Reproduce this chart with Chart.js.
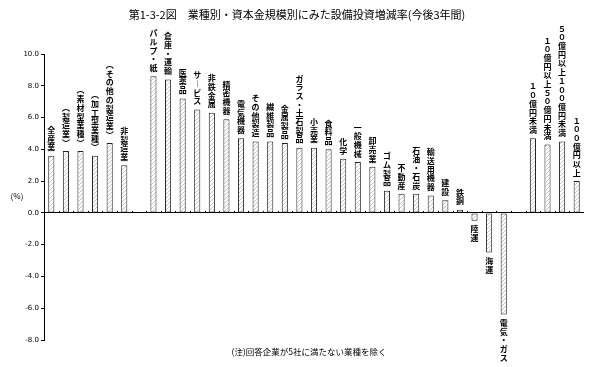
<!DOCTYPE html>
<html>
<head>
<meta charset="utf-8">
<script src="https://cdn.jsdelivr.net/npm/chart.js@4"></script>
<style>
  html, body { margin: 0; padding: 0; background: #fff; }
  canvas { display: block; }
</style>
</head>
<body>
<canvas id="graph" width="589" height="367"></canvas>
<script>
const categories = [
  '全産業', '︵製造業︶', '︵素材型業種︶', '︵加工型業種︶', '︵その他の製造業︶', '非製造業', '',
  'パルプ・紙', '倉庫・運輸', '医薬品', 'サ︱ビス', '非鉄金属', '精密機器', '電気機器', 'その他製造',
  '繊維製品', '金属製品', 'ガラス・土石製品', '小売業', '食料品', '化学', '一般機械', '卸売業',
  'ゴム製品', '不動産', '石油・石炭', '輸送用機器', '建設', '鉄鋼', '陸運', '海運', '電気・ガス', '',
  '１０億円未満', '１０億円以上５０億円未満', '５０億円以上１００億円未満', '１００億円以上'
]

const values = [
  3.6, 3.9, 3.9, 3.6, 4.4, 3.0, null,
  8.6, 8.4, 7.2, 6.5, 6.3, 5.9, 4.7, 4.5,
  4.5, 4.4, 4.1, 4.1, 4.0, 3.4, 3.2, 2.9,
  1.4, 1.2, 1.2, 1.1, 0.8, 0.2, -0.5, -2.5, -6.4, null,
  4.7, 4.3, 4.5, 2.0
]

const yTicks = { min: -8, max: 10, step: 2 }

const titleText = '第1-3-2図　業種別・資本金規模別にみた設備投資増減率(今後3年間)'
const noteText = '(注)回答企業が5社に満たない業種を除く'
const unitText = '(%)'

const JP = '"Noto Sans CJK JP", sans-serif'

// diagonal hatch for the bars
const hatch = (() => {
  const c = document.createElement('canvas')
  c.width = 4
  c.height = 4
  const g = c.getContext('2d')
  g.fillStyle = '#fff'
  g.fillRect(0, 0, 4, 4)
  g.fillStyle = '#c4c4c4'
  for (let i = 0; i < 4; i++) g.fillRect(i, 3 - i, 1, 1)
  return g.createPattern(c, 'repeat')
})()

const extras = {
  id: 'extras',
  afterDatasetsDraw(chart) {
    const { ctx, scales: { x, y } } = chart
    const zero = y.getPixelForValue(0)
    ctx.save()

    // small marks between categories on the zero line
    ctx.fillStyle = '#000'
    for (let i = 0; i < categories.length - 1; i++) {
      const px = Math.round((x.getPixelForValue(i) + x.getPixelForValue(i + 1)) / 2)
      ctx.fillRect(px, zero - 2, 1, 2)
    }

    // vertical labels
    const step = 8.7
    ctx.font = 'bold 8px ' + JP
    ctx.textAlign = 'center'
    ctx.textBaseline = 'middle'
    ctx.fillStyle = '#000'
    chart.getDatasetMeta(0).data.forEach((bar, i) => {
      const v = values[i]
      if (v === null) return
      const chars = Array.from(categories[i])
      const n = chars.length
      chars.forEach((ch, k) => {
        const cy = v >= 0 ? bar.y - 4 - (n - k - 0.5) * step : bar.y + 4 + (k + 0.5) * step
        ctx.fillText(ch, bar.x, cy)
      })
    })

    // title, unit and note
    ctx.font = '11px ' + JP
    ctx.fillText(titleText, 297, 15)
    ctx.font = '8px ' + JP
    ctx.fillText(unitText, 17, 196)
    ctx.font = '8.5px ' + JP
    ctx.fillText(noteText, 309, 352)
    ctx.restore()
  }
}

new Chart(document.getElementById('graph'), {
  type: 'bar',
  plugins: [extras],
  data: {
    labels: categories,
    datasets: [
      {
        data: values,
        backgroundColor: hatch,
        borderColor: '#222',
        borderWidth: 1,
        borderSkipped: false,
        barPercentage: 0.42,
        categoryPercentage: 1
      }
    ]
  },
  options: {
    responsive: false,
    animation: false,
    layout: { padding: { top: 54, bottom: 27, right: 5, left: 0 } },
    plugins: { legend: { display: false }, tooltip: { enabled: false }, title: { display: false } },
    scales: {
      x: { display: false },
      y: {
        min: yTicks.min,
        max: yTicks.max,
        afterFit(scale) { scale.width = 44 },
        border: { display: true, color: '#000', width: 1 },
        grid: {
          drawOnChartArea: true,
          color: (c) => (c.tick && c.tick.value === 0 ? '#000' : 'rgba(0,0,0,0)'),
          tickColor: '#000',
          tickLength: 3
        },
        ticks: {
          stepSize: yTicks.step,
          padding: 2,
          color: '#000',
          font: { size: 7, family: '"DejaVu Sans", sans-serif' },
          callback: (v) => Number(v).toFixed(1)
        }
      }
    }
  }
})
</script>
</body>
</html>
